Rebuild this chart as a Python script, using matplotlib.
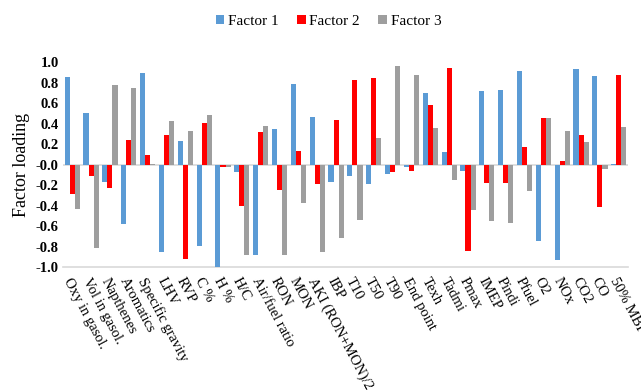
import numpy as np
import matplotlib
matplotlib.use("Agg")
import matplotlib.pyplot as plt

plt.rcParams['font.family'] = ['Liberation Serif', 'DejaVu Serif']

categories = ["Oxy in gasol.", "Vol in gasol.", "Napthenes", "Aromatics", "Specific gravity",
              "LHV", "RVP", "C %", "H %", "H/C", "Air/fuel ratio", "RON", "MON",
              "AKI (RON+MON)/2", "IBP", "T10", "T50", "T90", "End point", "Texh", "Tadmi",
              "Pmax", "IMEP", "Pindi", "Pfuel", "O2", "NOx", "CO2", "CO", "50% MBF"]

factor1 = [0.86, 0.51, -0.17, -0.58, 0.90, -0.85, 0.23, -0.79, -1.00, -0.07,
           -0.88, 0.35, 0.79, 0.47, -0.17, -0.11, -0.19, -0.09, -0.02, 0.70,
           0.12, -0.06, 0.72, 0.73, 0.92, -0.74, -0.93, 0.94, 0.87, 0.01]
factor2 = [-0.29, -0.11, -0.23, 0.24, 0.10, 0.29, -0.92, 0.41, -0.02, -0.40,
           0.32, -0.25, 0.13, -0.19, 0.44, 0.83, 0.85, -0.07, -0.06, 0.58,
           0.95, -0.84, -0.18, -0.18, 0.17, 0.46, 0.04, 0.29, -0.41, 0.88]
factor3 = [-0.43, -0.81, 0.78, 0.75, 0.01, 0.43, 0.33, 0.49, -0.02, -0.88,
           0.38, -0.88, -0.37, -0.85, -0.72, -0.54, 0.26, 0.96, 0.88, 0.36,
           -0.15, -0.44, -0.55, -0.57, -0.26, 0.46, 0.33, 0.22, -0.04, 0.37]

series = [("Factor 1", factor1, "#5B9BD5"),
          ("Factor 2", factor2, "#FF0000"),
          ("Factor 3", factor3, "#9E9E9E")]

fig = plt.figure(figsize=(6.41, 3.90), dpi=100)
ax = fig.add_axes([0.098, 0.315, 0.882, 0.525])

x = np.arange(len(categories))
w = 0.27
for i, (name, vals, col) in enumerate(series):
    ax.bar(x + (i - 1) * w, vals, width=w, color=col, label=name, zorder=3)

ax.axhline(0, color="#D9D9D9", lw=1.2, zorder=2)
ax.set_xlim(-0.5, len(categories) - 0.5)
ax.set_ylim(-1.0, 1.0)
ax.set_yticks(np.arange(-1.0, 1.01, 0.2))
ax.set_yticklabels([f"{v:.1f}" for v in np.arange(-1.0, 1.01, 0.2)],
                   fontsize=10.5, fontweight="bold")
ax.set_xticks(x)
ax.set_xticklabels(categories, rotation=-62, ha="left", va="top",
                   rotation_mode="anchor", fontsize=10.5)
ax.tick_params(axis="both", length=0, pad=3)
ax.tick_params(axis="x", pad=6)

for s in ["top", "right", "left"]:
    ax.spines[s].set_visible(False)
ax.spines["bottom"].set_color("#D9D9D9")
ax.spines["bottom"].set_linewidth(1.2)

ax.set_ylabel("Factor loading", fontsize=13)

ax.legend(loc="upper center", bbox_to_anchor=(0.47, 1.30), ncol=3, frameon=False,
          fontsize=11, handlelength=0.55, handleheight=0.55, handletextpad=0.25,
          columnspacing=1.2)

fig.savefig("out.png", dpi=100)
